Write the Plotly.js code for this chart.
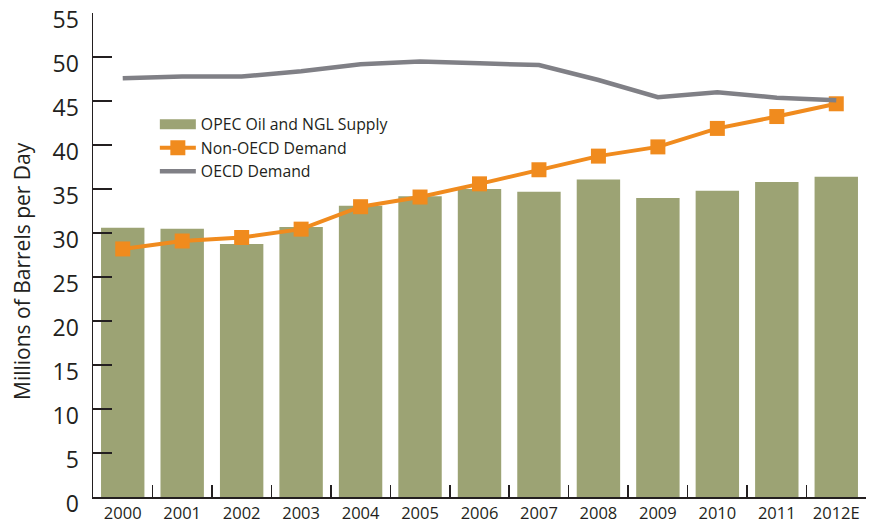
<!DOCTYPE html>
<html><head><meta charset="utf-8">
<script src="https://cdn.plot.ly/plotly-3.0.1.min.js"></script>
<style>html,body{margin:0;padding:0;background:#fff}</style>
</head><body>
<div id="chart" style="width:876px;height:523px"></div>
<script>
const years = ["2000","2001","2002","2003","2004","2005","2006","2007","2008","2009","2010","2011","2012E"];
const opecSupply = [30.6,30.5,28.75,30.7,33.1,34.2,35.0,34.7,36.1,34.0,34.8,35.8,36.4];
const nonOecdDemand = [28.2,29.1,29.5,30.45,33.0,34.1,35.6,37.2,38.75,39.8,41.9,43.25,44.7];
const oecdDemand = [47.6,47.8,47.8,48.4,49.2,49.5,49.3,49.1,47.4,45.45,46.0,45.4,45.1];
const yTicks = [0,5,10,15,20,25,30,35,40,45,50,55];
const yTitle = "Millions of Barrels per Day";
const barColor = "#9ca374";

const traces = [
  {type:"bar", name:"OPEC Oil and NGL Supply", x:years, y:opecSupply,
   marker:{color:barColor}, showlegend:false},
  // legend-only entry giving the wide swatch used in the original legend
  {type:"scatter", mode:"lines", name:"OPEC Oil and NGL Supply", x:[years[0]], y:[null],
   line:{color:barColor, width:12}, hoverinfo:"skip"},
  {type:"scatter", mode:"lines+markers", name:"Non-OECD Demand", x:years, y:nonOecdDemand,
   line:{color:"#f08b1e", width:4}, marker:{symbol:"square", size:15, color:"#f08b1e"}},
  {type:"scatter", mode:"lines", name:"OECD Demand", x:years, y:oecdDemand,
   line:{color:"#808086", width:4.5}}
];
const layout = {
  width:876, height:523,
  margin:{l:93, r:10, t:13, b:26},
  paper_bgcolor:"#fff", plot_bgcolor:"#fff",
  font:{family:"Open Sans, sans-serif", color:"#231f20"},
  bargap:0.27,
  showlegend:true,
  legend:{x:0.08, y:0.805, xanchor:"left", yanchor:"top", bgcolor:"rgba(0,0,0,0)",
          font:{size:15.8, color:"#231f20"}, itemwidth:36, tracegroupgap:0},
  xaxis:{type:"category", showline:true, linecolor:"#231f20", linewidth:1.5,
         ticks:"inside", tickson:"boundaries", ticklen:12, tickcolor:"#231f20", tickwidth:1.5,
         tickfont:{size:16.5}, showgrid:false, zeroline:false, range:[-0.5,12.5],
         ticklabelstandoff:1},
  yaxis:{range:[0,55.02], tickvals:yTicks,
         showline:true, linecolor:"#231f20", linewidth:1.5,
         ticks:"inside", ticklen:19, tickcolor:"#231f20", tickwidth:1.5,
         tickfont:{size:23}, showgrid:false, zeroline:false, ticklabelstandoff:8,
         ticklabelshift:7, ticklabeloverflow:"allow"},
  annotations:[{text:yTitle, xref:"paper", yref:"paper", x:-0.0918, y:0.467,
                xanchor:"center", yanchor:"middle", textangle:-90, showarrow:false,
                font:{size:21, color:"#231f20"}}]
};
Plotly.newPlot("chart", traces, layout, {displayModeBar:false, staticPlot:true});
</script>
</body></html>
